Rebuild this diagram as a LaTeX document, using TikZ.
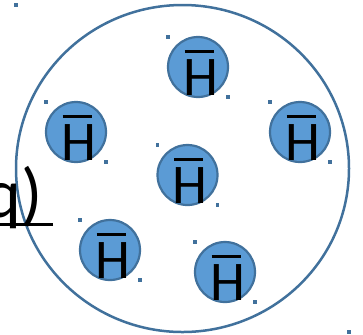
\documentclass[tikz,border=0pt]{standalone}
\usepackage{fontspec}
\setmainfont{Carlito}
\usepackage{tikz}
\usetikzlibrary{calc, shapes.geometric}
\definecolor{atomFill}{RGB}{91, 155, 213}
\definecolor{atomLine}{RGB}{65, 113, 156}
\newcommand{\antiH}{\rlap{\kern0.03em\rule[0.745em]{0.52em}{0.058em}}H}

\begin{document}
\begin{tikzpicture}[x=0.5pt, y=-0.5pt,
  atom/.style={circle, draw=atomLine, fill=atomFill, line width=1.1pt, minimum size=30pt, inner sep=0pt, outer sep=0pt},
  atomtxt/.style={anchor=base, inner sep=0pt, font=\fontsize{28pt}{32pt}\selectfont},
  handle/.style={fill=atomLine}]
  \useasboundingbox (0,0) rectangle (363,334);
  \clip (0,0) rectangle (363,334);

  % the cell
  \node[ellipse, draw=atomLine, line width=1.25pt, minimum width=166.5pt, minimum height=163.5pt, inner sep=0pt, outer sep=0pt] (cell) at (182.5,168.5) {};
  \fill[handle] (cell.west |- cell.north) +(-1.6,-1.6) rectangle +(1.6,1.6);
  \fill[handle] (cell.east |- cell.south) +(-1.6,-1.6) rectangle +(1.6,1.6);

  % label, cut by the left border
  \node[anchor=base east, inner sep=0pt, font=\fontsize{35pt}{40pt}\selectfont] (lbl) at (43,217) {q)};
  \draw[line width=1.5pt] ([xshift=5pt, yshift=-3.75pt]lbl.base east) -- ([yshift=-3.75pt]lbl.base west);

  % anti-hydrogen atoms
  \node[atom] (h1) at (198,67) {};
  \node[atomtxt] (t1) at ([xshift=1.25pt, yshift=-14pt]h1.center) {\antiH};
  \fill[handle] (h1.west |- h1.north) +(-1.6,-1.6) rectangle +(1.6,1.6);
  \fill[handle] (h1.east |- h1.south) +(-1.6,-1.6) rectangle +(1.6,1.6);

  \node[atom] (h2) at (76,132) {};
  \node[atomtxt] (t2) at ([xshift=1.25pt, yshift=-14pt]h2.center) {\antiH};
  \fill[handle] (h2.west |- h2.north) +(-1.6,-1.6) rectangle +(1.6,1.6);
  \fill[handle] (h2.east |- h2.south) +(-1.6,-1.6) rectangle +(1.6,1.6);

  \node[atom] (h3) at (300,132) {};
  \node[atomtxt] (t3) at ([xshift=1.25pt, yshift=-14pt]h3.center) {\antiH};
  \fill[handle] (h3.west |- h3.north) +(-1.6,-1.6) rectangle +(1.6,1.6);
  \fill[handle] (h3.east |- h3.south) +(-1.6,-1.6) rectangle +(1.6,1.6);

  \node[atom] (h4) at (187.5,175) {};
  \node[atomtxt] (t4) at ([xshift=1.25pt, yshift=-14pt]h4.center) {\antiH};
  \fill[handle] (h4.west |- h4.north) +(-1.6,-1.6) rectangle +(1.6,1.6);
  \fill[handle] (h4.east |- h4.south) +(-1.6,-1.6) rectangle +(1.6,1.6);

  \node[atom] (h5) at (110,250) {};
  \node[atomtxt] (t5) at ([xshift=1.25pt, yshift=-14pt]h5.center) {\antiH};
  \fill[handle] (h5.west |- h5.north) +(-1.6,-1.6) rectangle +(1.6,1.6);
  \fill[handle] (h5.east |- h5.south) +(-1.6,-1.6) rectangle +(1.6,1.6);

  \node[atom] (h6) at (225,272) {};
  \node[atomtxt] (t6) at ([xshift=1.25pt, yshift=-14pt]h6.center) {\antiH};
  \fill[handle] (h6.west |- h6.north) +(-1.6,-1.6) rectangle +(1.6,1.6);
  \fill[handle] (h6.east |- h6.south) +(-1.6,-1.6) rectangle +(1.6,1.6);
\end{tikzpicture}
\end{document}
